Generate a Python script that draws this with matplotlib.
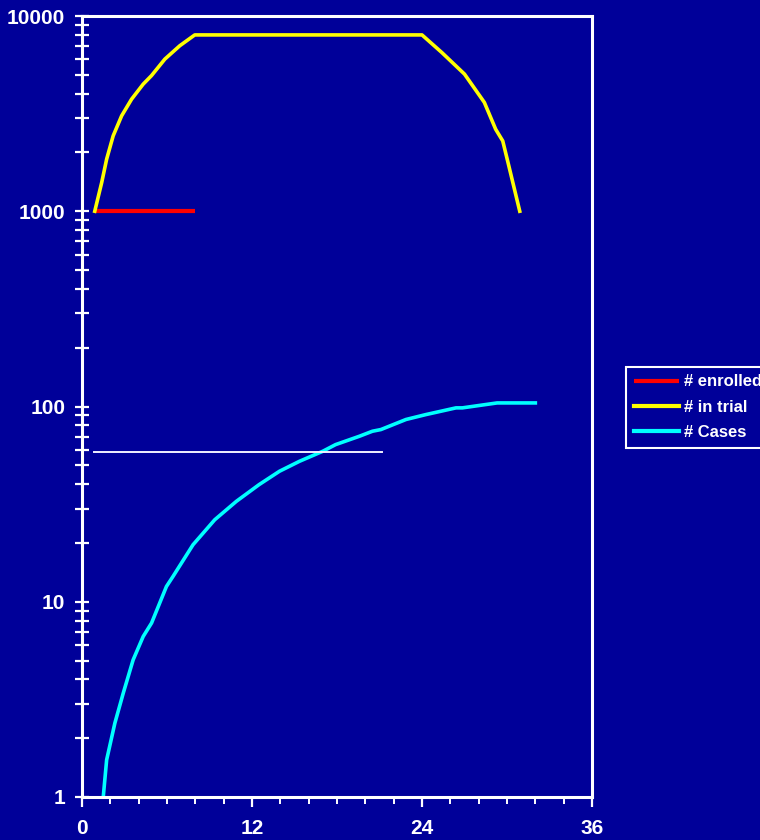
import matplotlib

matplotlib.use("Agg")
import matplotlib.pyplot as plt
from matplotlib.ticker import FixedLocator, LogLocator, NullFormatter

BG = "#000099"

# months vs counts (log scale)
enrolled_x = [0.9, 8.0]
enrolled_y = [1000, 1000]

trial_x = [0.9, 1.39, 1.74, 2.2, 2.8, 3.5, 4.32, 4.9, 5.85, 6.9, 7.96,
           24.0, 25.4, 27.0, 28.4, 29.2, 29.7, 30.1, 30.9]
trial_y = [1000, 1403, 1849, 2433, 3084, 3750, 4478, 4945, 6016, 7040, 8000,
           8000, 6500, 5040, 3610, 2630, 2291, 1742, 1000]

cases_x = [1.5, 1.74, 2.32, 2.91, 3.61, 4.32, 4.91, 5.96, 6.43, 7.84, 9.37,
           10.9, 12.5, 13.94, 15.35, 17.0, 17.9, 19.58, 20.5, 21.1, 22.87,
           24.27, 26.4, 26.85, 29.3, 32.0]
cases_y = [1, 1.55, 2.39, 3.40, 5.04, 6.64, 7.78, 11.97, 13.5, 19.6, 26.3,
           32.7, 39.8, 46.6, 52.4, 59, 63.8, 70.4, 74.7, 76.2, 85.8,
           90.9, 98.4, 98.4, 104.3, 104.3]

target_x = [0.87, 21.2]
target_y = [58.5, 58.5]

x_ticks = [0, 12, 24, 36]
y_ticks = [1, 10, 100, 1000, 10000]

plt.rcParams["font.family"] = ["Liberation Sans", "DejaVu Sans"]
plt.rcParams["font.weight"] = "bold"

fig = plt.figure(figsize=(7.6, 8.4), dpi=100, facecolor=BG)
ax = fig.add_axes([82 / 760, 1 - 797 / 840, (592 - 82) / 760, (797 - 16) / 840])
ax.set_facecolor(BG)

ax.plot(enrolled_x, enrolled_y, color="#ff0000", lw=3.0, label="# enrolled",
        solid_capstyle="butt")
ax.plot(trial_x, trial_y, color="#ffff00", lw=2.6, label="# in trial",
        solid_joinstyle="round")
ax.plot(cases_x, cases_y, color="#00ffff", lw=2.6, label="# Cases",
        solid_joinstyle="round")
ax.plot(target_x, target_y, color="#f0f0ff", lw=1.4)

ax.set_yscale("log")
ax.set_xlim(0, 36)
ax.set_ylim(1, 10000)

ax.xaxis.set_major_locator(FixedLocator(x_ticks))
ax.xaxis.set_minor_locator(FixedLocator(range(0, 37, 2)))
ax.yaxis.set_major_locator(FixedLocator(y_ticks))
ax.yaxis.set_minor_locator(LogLocator(base=10, subs=range(2, 10)))
ax.yaxis.set_minor_formatter(NullFormatter())
ax.set_yticklabels([str(v) for v in y_ticks])

for s in ax.spines.values():
    s.set_color("white")
    s.set_linewidth(2.2)

ax.tick_params(axis="x", which="major", direction="out", length=7, width=1.6,
               colors="white", labelsize=15, pad=9)
ax.tick_params(axis="x", which="minor", direction="out", length=5, width=1.4,
               colors="white")
ax.tick_params(axis="y", which="both", direction="inout", length=10, width=1.6,
               colors="white", labelsize=15, pad=7)
for lab in ax.get_xticklabels() + ax.get_yticklabels():
    lab.set_fontweight("heavy")

leg = fig.legend(loc="upper left", bbox_to_anchor=(626 / 760, 1 - 367 / 840),
                 frameon=True, fancybox=False, facecolor=BG, edgecolor="white",
                 fontsize=12, handlelength=2.7, handletextpad=0.35,
                 labelspacing=0.62, borderpad=0.45, borderaxespad=0)
leg.get_frame().set_linewidth(1.5)
leg.get_frame().set_alpha(1)
for line in leg.get_lines():
    line.set_linewidth(3.0)
for t in leg.get_texts():
    t.set_color("white")
    t.set_fontweight("bold")

fig.savefig("out.png", dpi=100, facecolor=BG)
